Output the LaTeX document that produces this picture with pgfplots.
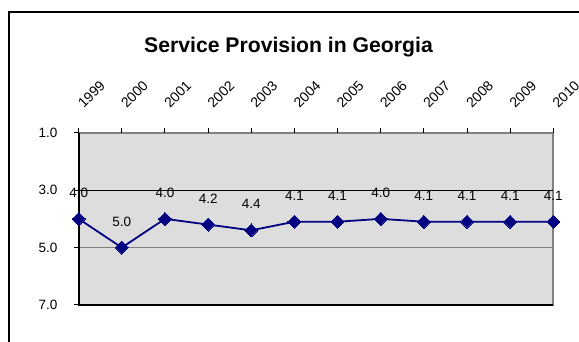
\documentclass[border=0pt]{standalone}
\usepackage{fontspec}
\setmainfont{Liberation Sans}
\usepackage{pgfplots}
\pgfplotsset{compat=1.18}
\definecolor{bggray}{RGB}{221,221,221}
\definecolor{navyline}{RGB}{0,0,128}
\definecolor{framegray}{RGB}{128,128,128}
\begin{document}
\begin{tikzpicture}
\useasboundingbox (0pt,0pt) rectangle (579pt,-342pt);
\draw[line width=2pt] (9pt,-342pt) -- (9pt,-12pt) -- (579pt,-12pt);
\node[font=\bfseries\fontsize{21.2}{24}\selectfont, anchor=base, inner sep=0pt] at (288.5pt,-52.3pt) {Service Provision in Georgia};
\begin{axis}[
  at={(78.7pt,-132.7pt)}, anchor=north west,
  scale only axis, width=474.6pt, height=172.3pt,
  xmin=0, xmax=11, ymin=1, ymax=7, y dir=reverse,
  clip=false,
  axis line style={draw=none},
  axis background/.style={fill=bggray, draw=framegray, line width=2pt},
  xtick={0,1,2,3,4,5,6,7,8,9,10,11},
  xticklabels={1999,2000,2001,2002,2003,2004,2005,2006,2007,2008,2009,2010},
  xtick pos=right, xticklabel pos=right,
  ytick={1,3,5,7}, ytick pos=left,
  tick align=outside, major tick length=5pt,
  tick style={black, line width=1pt},
  /pgf/number format/assume math mode=true,
  yticklabel={\pgfmathprintnumber[fixed,precision=1,zerofill]{\tick}},
  yticklabel style={font=\fontsize{13.5}{14}\selectfont, inner sep=0pt, xshift=-16pt},
  xticklabel shift=19pt,
  xticklabel style={font=\fontsize{14}{15}\selectfont, xshift=5pt, rotate=45, anchor=base west, inner sep=0pt},
  ymajorgrids, major grid style={framegray, line width=1pt},
  extra y ticks={3}, extra y tick labels={},
  extra y tick style={grid=major, major grid style={black, line width=1pt}, tick style={draw=none}},
  nodes near coords={\pgfmathprintnumber[fixed,precision=1,zerofill]{\pgfplotspointmeta}},
  every node near coord/.append style={anchor=center, yshift=26pt, font=\fontsize{13.5}{14}\selectfont, text=black},
]
\draw[black, line width=2pt] (rel axis cs:0,1) -- (rel axis cs:0,0) -- (rel axis cs:1,0);
\addplot[navyline, line width=1.8pt, mark=square*, mark size=4.6pt, mark options={rotate=45, fill=navyline, draw=navyline, line width=0pt}]
  coordinates {(0,4.0) (1,5.0) (2,4.0) (3,4.2) (4,4.4) (5,4.1) (6,4.1) (7,4.0) (8,4.1) (9,4.1) (10,4.1) (11,4.1)};
\end{axis}
\end{tikzpicture}
\end{document}
